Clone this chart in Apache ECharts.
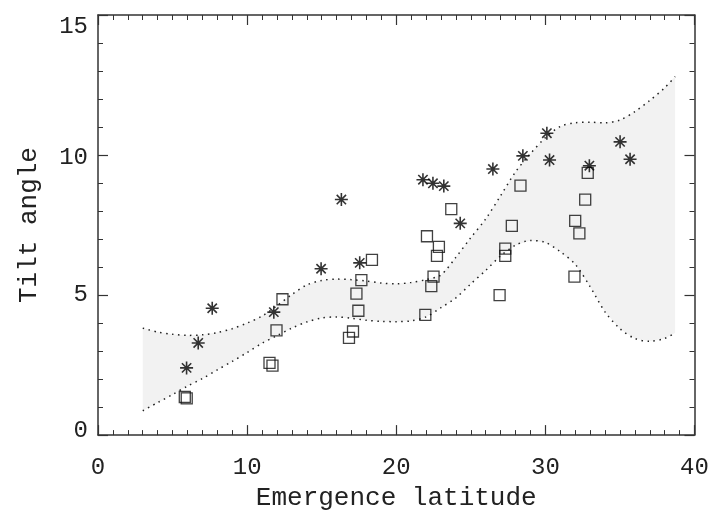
<!DOCTYPE html>
<html>
<head>
<meta charset="utf-8">
<script src="https://cdn.jsdelivr.net/npm/echarts@6/dist/echarts.min.js"></script>
<style>
html,body{margin:0;padding:0;background:#fff;}
#chart{width:712px;height:516px;}
</style>
</head>
<body>
<div id="chart"></div>
<script>
// ---- data ----
const squareX = [5.82, 5.95, 11.5, 11.7, 11.97, 12.37, 16.83, 17.1, 17.46, 17.33, 17.66, 18.37, 21.95, 22.35, 22.5, 22.73, 22.86, 22.06, 23.69, 26.93, 27.31, 27.31, 27.75, 28.33, 31.95, 32.0, 32.28, 32.67, 32.84];
const squareY = [1.36, 1.31, 2.58, 2.48, 3.74, 4.85, 3.47, 3.70, 4.44, 5.05, 5.53, 6.26, 4.29, 5.32, 5.66, 6.40, 6.72, 7.10, 8.07, 5.00, 6.40, 6.66, 7.47, 8.91, 5.66, 7.65, 7.20, 8.41, 9.36];

const starX = [5.94, 6.72, 7.66, 11.79, 14.96, 16.32, 17.55, 21.79, 22.46, 23.19, 24.29, 26.48, 28.49, 30.1, 30.28, 32.95, 35.01, 35.68];
const starY = [2.40, 3.29, 4.53, 4.39, 5.94, 8.41, 6.15, 9.12, 8.99, 8.89, 7.56, 9.50, 9.97, 10.78, 9.82, 9.62, 10.47, 9.85];

const bandX = [3, 4, 5, 6, 7, 8, 9, 10, 11, 12, 13, 14, 15, 16, 17, 18, 19, 20, 21, 22, 23, 24, 25, 26, 27, 28, 29, 30, 31, 32, 33, 34, 35, 36, 37, 38, 38.7];
const bandUpper = [3.82, 3.68, 3.6, 3.56, 3.58, 3.66, 3.8, 4.0, 4.25, 4.62, 5.02, 5.36, 5.52, 5.57, 5.55, 5.5, 5.43, 5.4, 5.45, 5.55, 5.72, 6.35, 7.05, 7.72, 8.55, 9.4, 10.05, 10.62, 11.02, 11.15, 11.17, 11.15, 11.25, 11.55, 11.95, 12.4, 12.8];
const bandLower = [0.87, 1.16, 1.45, 1.75, 2.02, 2.33, 2.63, 2.95, 3.28, 3.55, 3.82, 4.04, 4.18, 4.22, 4.17, 4.1, 4.06, 4.05, 4.08, 4.22, 4.55, 4.9, 5.4, 5.88, 6.4, 6.78, 6.95, 6.88, 6.55, 6.1, 5.3, 4.4, 3.8, 3.45, 3.35, 3.45, 3.65];

const xTicks = [0, 10, 20, 30, 40];
const yTicks = [0, 5, 10, 15];
const xTitle = 'Emergence latitude';
const yTitle = 'Tilt angle';

// ---- build ----
const zip = (a, b) => a.map((v, i) => [v, b[i]]);
const FONT = 'Liberation Mono';
const AX = '#333';
const TXT = '#222';

const chart = echarts.init(document.getElementById('chart'), null, {renderer: 'canvas'});

function axisCommon(showLabel) {
  return {
    type: 'value',
    axisLine: {show: true, onZero: false, lineStyle: {color: AX, width: 1.5}},
    axisTick: {show: true, inside: true, length: 10, lineStyle: {color: AX, width: 1.2}},
    minorTick: {show: true, length: 5, lineStyle: {color: AX, width: 1}},
    splitLine: {show: false},
    minorSplitLine: {show: false},
    axisLabel: {show: showLabel, fontFamily: FONT, fontSize: 24, color: TXT}
  };
}

const xBottom = Object.assign(axisCommon(true), {
  position: 'bottom', min: xTicks[0], max: xTicks[xTicks.length - 1], interval: 10,
  name: xTitle, nameLocation: 'middle', nameGap: 47,
  nameTextStyle: {fontFamily: FONT, fontSize: 26, color: TXT}
});
xBottom.minorTick.splitNumber = 10;
xBottom.axisLabel.margin = 21;

const xTop = Object.assign(axisCommon(false), {
  position: 'top', min: xTicks[0], max: xTicks[xTicks.length - 1], interval: 10
});
xTop.minorTick.splitNumber = 10;

const yLeft = Object.assign(axisCommon(true), {
  position: 'left', min: yTicks[0], max: yTicks[yTicks.length - 1], interval: 5,
  name: yTitle, nameLocation: 'middle', nameGap: 56,
  nameTextStyle: {fontFamily: FONT, fontSize: 26, color: TXT}
});
yLeft.minorTick.splitNumber = 5;
yLeft.axisLabel.margin = 10;
yLeft.axisLabel.formatter = function (v) {
  if (v === yTicks[yTicks.length - 1]) return '{top|' + v + '}';
  if (v === yTicks[0]) return '{bot|' + v + '}';
  if (v === 10) return '{mid|' + v + '}';
  return '{n|' + v + '}';
};
const rs = {fontFamily: FONT, fontSize: 24, color: TXT};
yLeft.axisLabel.rich = {
  top: Object.assign({padding: [24, 0, 0, 0]}, rs),
  mid: Object.assign({padding: [6, 0, 0, 0]}, rs),
  bot: Object.assign({padding: [0, 0, 8, 0]}, rs),
  n: Object.assign({}, rs)
};

const yRight = Object.assign(axisCommon(false), {
  position: 'right', min: yTicks[0], max: yTicks[yTicks.length - 1], interval: 5
});
yRight.minorTick.splitNumber = 5;

const STAR = 'path://M0,-6L0,6M-6,0L6,0M-4.3,-4.3L4.3,4.3M-4.3,4.3L4.3,-4.3';

const option = {
  animation: false,
  backgroundColor: '#fff',
  grid: {left: 98, right: 17.5, top: 15, bottom: 78.3, containLabel: false},
  xAxis: [xBottom, xTop],
  yAxis: [yLeft, yRight],
  series: [
    {
      type: 'custom',
      name: 'band',
      xAxisIndex: 0, yAxisIndex: 0,
      data: [0],
      silent: true,
      z: 1,
      renderItem: function (params, api) {
        const pts = [];
        for (let i = 0; i < bandX.length; i++) pts.push(api.coord([bandX[i], bandUpper[i]]));
        for (let i = bandX.length - 1; i >= 0; i--) pts.push(api.coord([bandX[i], bandLower[i]]));
        return {type: 'polygon', shape: {points: pts}, style: {fill: '#f2f2f2', stroke: null}};
      }
    },
    {
      type: 'line', name: 'upper', data: zip(bandX, bandUpper), showSymbol: false, symbol: 'none',
      smooth: 0.3, z: 2, silent: true,
      lineStyle: {color: '#222', width: 1.5, type: [1.5, 4.5]}
    },
    {
      type: 'line', name: 'lower', data: zip(bandX, bandLower), showSymbol: false, symbol: 'none',
      smooth: 0.3, z: 2, silent: true,
      lineStyle: {color: '#222', width: 1.5, type: [1.5, 4.5]}
    },
    {
      type: 'scatter', name: 'squares', data: zip(squareX, squareY), z: 3,
      symbol: 'rect', symbolSize: 11,
      itemStyle: {color: 'rgba(0,0,0,0)', borderColor: '#111', borderWidth: 1.3}
    },
    {
      type: 'scatter', name: 'stars', data: zip(starX, starY), z: 4,
      symbol: STAR, symbolSize: 13,
      itemStyle: {color: 'rgba(0,0,0,0)', borderColor: '#000', borderWidth: 1.6}
    }
  ]
};
chart.setOption(option);
</script>
</body>
</html>
